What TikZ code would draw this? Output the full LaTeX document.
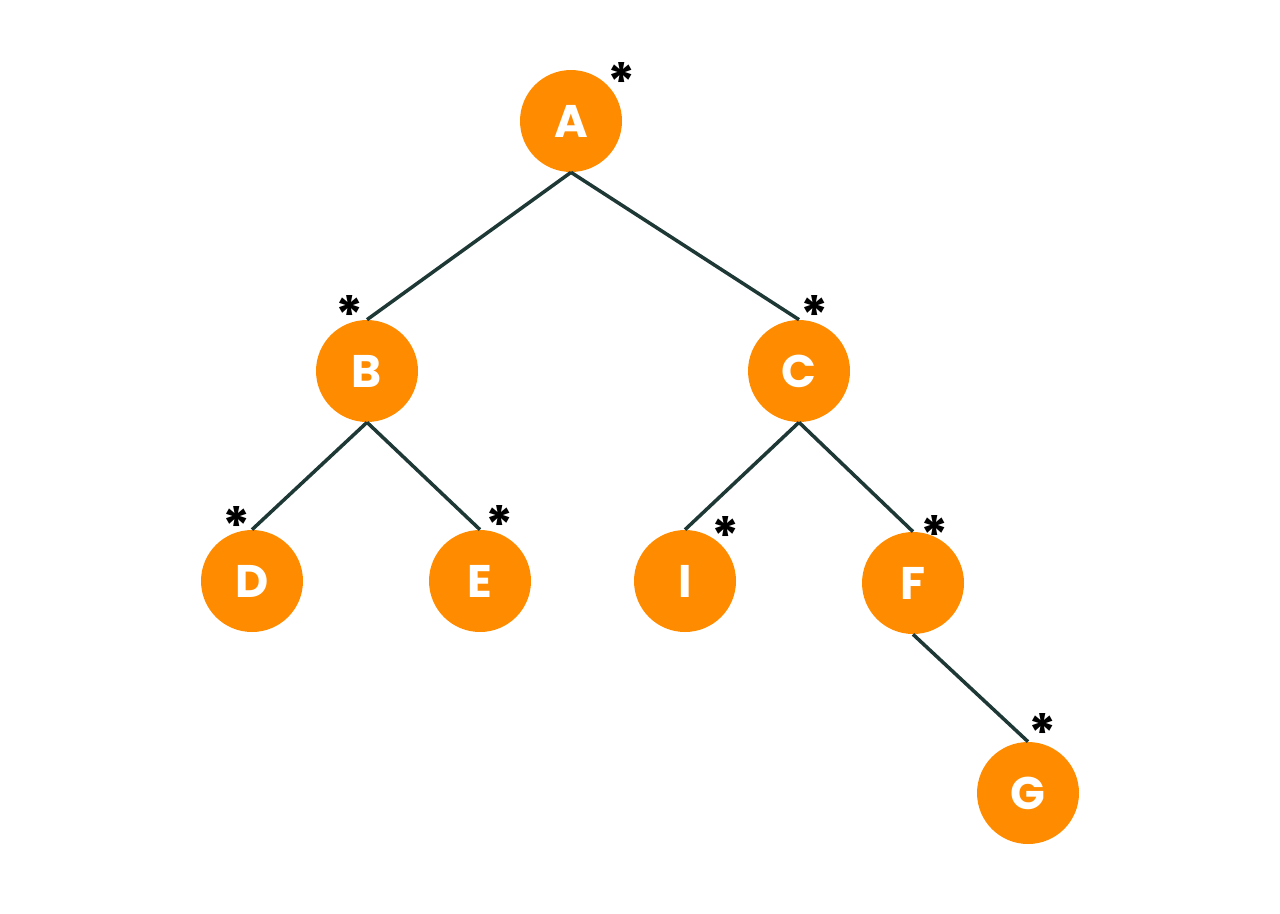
\documentclass[tikz,border=0pt]{standalone}
\usepackage{fontspec}
\setmainfont{Poppins}
\usepackage{xcolor}
\usepackage{tikz}
\usetikzlibrary{positioning,calc}

\definecolor{nodeorange}{HTML}{FF8C00}
\definecolor{edgeteal}{HTML}{1E3836}

\begin{document}
\begin{tikzpicture}[
  x=0.02cm, y=-0.02cm,
  vertex/.style={circle, fill=nodeorange, minimum size=2.04cm, inner sep=0pt, text=white, font=\fontsize{26}{26}\selectfont\bfseries},
  edge/.style={draw=edgeteal, line width=2pt},
  starlbl/.style={inner sep=0pt, font=\fontsize{30}{30}\selectfont\bfseries}
]
  \useasboundingbox (0,0) rectangle (1280,913);

  % Root
  \node[vertex] (A) at (571,121) {A};

  % Level 1
  \node[vertex] (B) at (367,371) {B};
  \node[vertex] (C) at (799,371) {C};

  % Level 2
  \node[vertex] (D) at (252,581) {D};
  \node[vertex] (E) at (480,581) {E};
  \node[vertex] (I) at (685,581) {I};
  \node[vertex] (F) at (913,583) {F};

  % Level 3
  \node[vertex] (G) at (1028,793) {G};

  % Stars
  \node[starlbl] (sA) at (622,82) {*};
  \node[starlbl] (sB) at (350,315) {*};
  \node[starlbl] (sC) at (815,315) {*};
  \node[starlbl] (sD) at (237,526) {*};
  \node[starlbl] (sE) at (500,525) {*};
  \node[starlbl] (sI) at (726,536) {*};
  \node[starlbl] (sF) at (935,535) {*};
  \node[starlbl] (sG) at (1043,733) {*};

  % Edges
  \draw[edge] (A.south) -- (B.north);
  \draw[edge] (A.south) -- (C.north);
  \draw[edge] (B.south) -- (D.north);
  \draw[edge] (B.south) -- (E.north);
  \draw[edge] (C.south) -- (I.north);
  \draw[edge] (C.south) -- (F.north);
  \draw[edge] (F.south) -- (G.north);
\end{tikzpicture}
\end{document}
